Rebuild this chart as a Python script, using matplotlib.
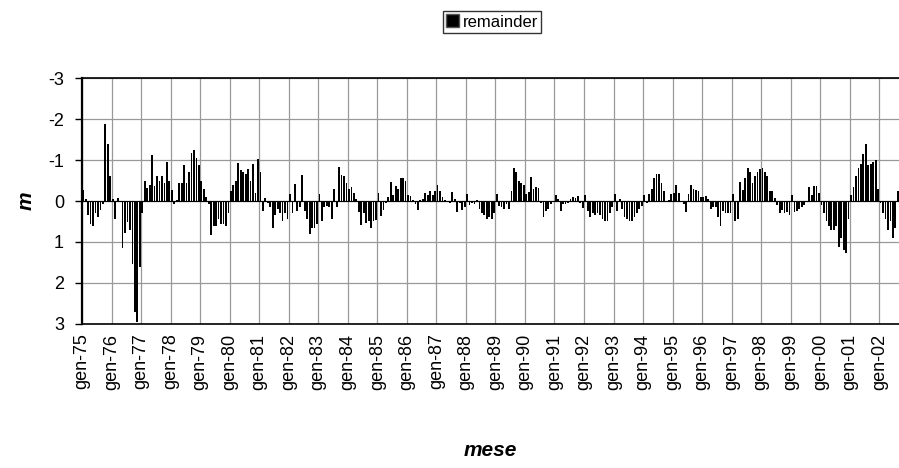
import numpy as np
import matplotlib.pyplot as plt
from matplotlib.patches import Patch

plt.rcParams['font.family'] = ['Liberation Sans', 'DejaVu Sans']
plt.rcParams['axes.unicode_minus'] = False

# --- monthly remainder (gen-75 ... ago-02) ---
y1975 = [-0.28, -0.05, 0.35, 0.57, 0.61, 0.30, 0.38, 0.22, 0.08, -1.88, -1.38, -0.62]
y1976 = [-0.04, 0.43, -0.07, 0.02, 1.15, 0.78, 0.52, 0.70, 1.55, 2.70, 2.95, 1.60]
y1977 = [0.30, -0.50, -0.32, -0.40, -1.13, -0.37, -0.60, -0.50, -0.60, -0.45, -0.95, -0.48]
y1978 = [-0.28, 0.07, -0.02, -0.45, -0.45, -0.88, -0.45, -0.70, -1.18, -1.25, -1.05, -0.88]
y1979 = [-0.50, -0.30, -0.10, 0.08, 0.82, 0.62, 0.60, 0.45, 0.57, 0.55, 0.62, 0.30]
y1980 = [-0.25, -0.40, -0.50, -0.92, -0.75, -0.72, -0.65, -0.78, -0.50, -0.90, -0.20, -1.03]
y1981 = [-0.72, 0.25, -0.08, 0.05, 0.15, 0.65, 0.35, 0.20, 0.30, 0.50, 0.30, 0.45]
y1982 = [-0.18, 0.30, -0.42, 0.25, 0.15, -0.63, 0.25, 0.45, 0.80, 0.65, 0.65, 0.55]
y1983 = [-0.18, 0.50, 0.15, 0.12, 0.15, 0.45, -0.30, 0.15, -0.83, -0.63, -0.60, -0.45]
y1984 = [-0.30, -0.33, -0.19, -0.04, 0.28, 0.58, 0.30, 0.53, 0.50, 0.67, 0.50, 0.46]
y1985 = [-0.19, 0.36, 0.22, 0.06, -0.10, -0.47, -0.15, -0.37, -0.30, -0.55, -0.55, -0.49]
y1986 = [-0.15, -0.13, -0.02, 0.08, 0.23, -0.02, -0.05, -0.20, -0.15, -0.25, -0.15, -0.25]
y1987 = [-0.38, -0.25, -0.09, -0.03, 0.02, 0.06, -0.23, -0.05, 0.26, 0.05, 0.22, 0.15]
y1988 = [-0.17, 0.10, 0.05, 0.08, -0.03, 0.20, 0.30, 0.33, 0.45, 0.38, 0.43, 0.30]
y1989 = [-0.18, 0.12, 0.15, 0.20, 0.08, 0.20, -0.25, -0.80, -0.72, -0.50, -0.45, -0.40]
y1990 = [-0.18, -0.22, -0.58, -0.30, -0.35, -0.32, 0.05, 0.38, 0.25, 0.20, 0.08, 0.02]
y1991 = [-0.15, -0.05, 0.25, 0.08, 0.08, 0.05, -0.05, -0.10, -0.08, -0.12, 0.05, 0.18]
y1992 = [-0.15, 0.25, 0.38, 0.30, 0.33, 0.30, 0.35, 0.43, 0.50, 0.50, 0.30, 0.15]
y1993 = [-0.17, 0.25, -0.05, 0.20, 0.40, 0.45, 0.50, 0.50, 0.38, 0.30, 0.20, 0.12]
y1994 = [-0.15, 0.05, -0.18, -0.30, -0.55, -0.66, -0.65, -0.45, -0.25, 0.02, -0.02, -0.18]
y1995 = [-0.20, -0.38, -0.20, 0.02, 0.08, 0.28, -0.18, -0.38, -0.30, -0.28, -0.25, -0.10]
y1996 = [-0.10, -0.12, -0.05, 0.20, 0.15, 0.15, 0.38, 0.60, 0.25, 0.30, 0.30, 0.30]
y1997 = [-0.18, 0.50, 0.45, -0.47, -0.28, -0.55, -0.80, -0.72, -0.45, -0.60, -0.70, -0.78]
y1998 = [-0.80, -0.72, -0.60, -0.25, -0.25, -0.08, 0.10, 0.30, 0.22, 0.30, 0.28, 0.35]
y1999 = [-0.15, 0.28, 0.25, 0.20, 0.15, 0.10, 0.03, -0.33, -0.15, -0.37, -0.37, -0.20]
y2000 = [0.10, 0.30, 0.50, 0.62, 0.70, 0.70, 0.60, 1.12, 0.90, 1.20, 1.27, 0.45]
y2001 = [-0.15, -0.35, -0.60, -0.80, -0.90, -1.15, -1.40, -0.88, -0.90, -0.95, -1.00, -0.30]
y2002 = [0.05, 0.30, 0.45, 0.70, 0.50, 0.90, 0.65, -0.25]

years = list(range(1975, 2003))
tick_labels = ['gen-%02d' % (y % 100) for y in years]

remainder = np.concatenate([y1975, y1976, y1977, y1978, y1979, y1980, y1981,
                            y1982, y1983, y1984, y1985, y1986, y1987, y1988,
                            y1989, y1990, y1991, y1992, y1993, y1994, y1995,
                            y1996, y1997, y1998, y1999, y2000, y2001, y2002])
months = np.arange(len(remainder))

fig = plt.figure(figsize=(8.99, 4.68), dpi=100)
# plot area runs to the right edge of the picture, like the reference
ax = fig.add_axes([0.0912, 0.308, 0.9088, 0.525])

ax.bar(months, remainder, width=0.72, color='black', zorder=3)
ax.axhline(0, color='black', lw=0.8, zorder=4)

ax.set_xlim(-0.5, len(remainder) - 0.5)
ax.set_ylim(3, -3)  # reversed value axis

ax.set_yticks(range(-3, 4))
ax.set_yticklabels([str(v) for v in range(-3, 4)])
xt = [12 * k - 0.5 for k in range(len(years))]
ax.set_xticks(xt)
ax.set_xticklabels(tick_labels, rotation=90)

ax.grid(True, color='#999999', lw=0.9, zorder=0)
ax.tick_params(axis='y', labelsize=13, length=5, width=1, pad=8)
ax.tick_params(axis='x', labelsize=13, length=0, pad=7)

for s in ['top', 'bottom']:
    ax.spines[s].set_linewidth(1.2)
ax.spines['left'].set_linewidth(1.6)
ax.spines['right'].set_visible(False)

fig.text(26 / 899, 1 - 201 / 468, 'm', fontsize=15, fontweight='bold',
         fontstyle='italic', rotation=90, ha='center', va='center')
fig.text(490 / 899, 1 - 450 / 468, 'mese', fontsize=15, fontweight='bold',
         fontstyle='italic', ha='center', va='center')

leg = fig.legend(handles=[Patch(facecolor='black', edgecolor='#555555', label='remainder')],
                 loc='center', bbox_to_anchor=(492 / 899, 1 - 22 / 468),
                 fontsize=12, frameon=True, fancybox=False, edgecolor='black',
                 handlelength=0.8, handleheight=0.8, handletextpad=0.2,
                 borderpad=0.2, borderaxespad=0)
leg.get_frame().set_linewidth(1.0)

plt.savefig('out.png', dpi=100)
